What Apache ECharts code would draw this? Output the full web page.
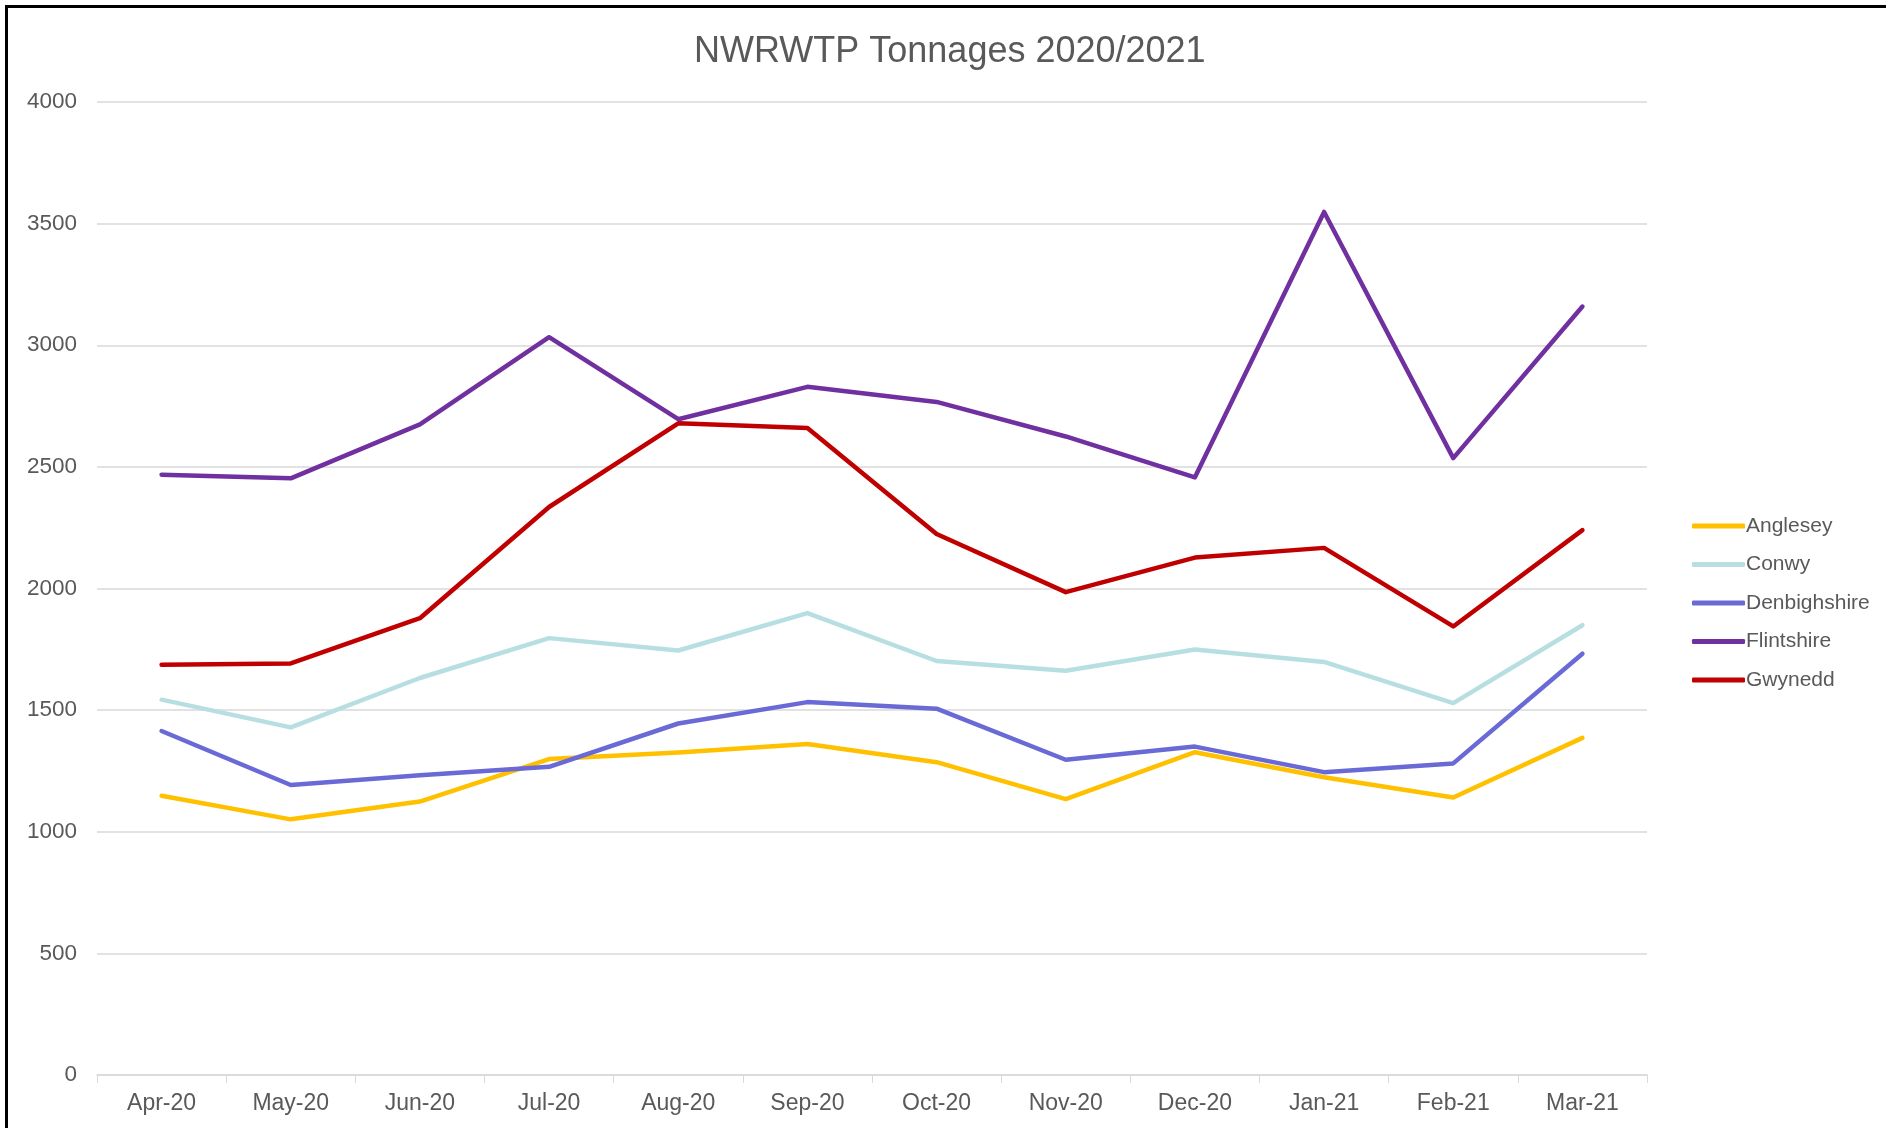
<!DOCTYPE html>
<html>
<head>
<meta charset="utf-8">
<title>NWRWTP Tonnages 2020/2021</title>
<script src="https://cdn.jsdelivr.net/npm/echarts@6/dist/echarts.min.js"></script>
<style>
  html, body { margin: 0; padding: 0; background: #fff; }
  #chart { width: 1886px; height: 1128px; }
  .frame {
    position: absolute; left: 5px; top: 5px; width: 1900px; height: 1200px;
    border-top: 3px solid #000; border-left: 3px solid #000;
    pointer-events: none;
  }
</style>
</head>
<body>
<div id="chart"></div>
<div class="frame"></div>
<script>
// 月份
const months = ['Apr-20', 'May-20', 'Jun-20', 'Jul-20', 'Aug-20', 'Sep-20',
  'Oct-20', 'Nov-20', 'Dec-20', 'Jan-21', 'Feb-21', 'Mar-21']

// 各地区吨数
const anglesey = [1148, 1051, 1124, 1299, 1326, 1361, 1286, 1134, 1327, 1224, 1141, 1386]
const conwy = [1543, 1429, 1632, 1796, 1745, 1899, 1702, 1662, 1749, 1698, 1529, 1849]
const denbighshire = [1414, 1192, 1232, 1267, 1445, 1533, 1506, 1296, 1350, 1245, 1281, 1732]
const flintshire = [2468, 2453, 2675, 3033, 2696, 2829, 2767, 2625, 2457, 3548, 2536, 3159]
const gwynedd = [1687, 1692, 1878, 2335, 2679, 2660, 2224, 1985, 2127, 2167, 1844, 2240]

const yTicks = [0, 500, 1000, 1500, 2000, 2500, 3000, 3500, 4000]

const textColor = '#595959'
const gridColor = '#D9D9D9'
const font = 'Liberation Sans, Arial, sans-serif'

const makeLine = (name, data, color) => ({
  name,
  type: 'line',
  data,
  symbol: 'none',
  lineStyle: { color, width: 4.5, cap: 'round', join: 'round' },
  itemStyle: { color },
  emphasis: { disabled: true }
})

const chart = echarts.init(document.getElementById('chart'))
chart.setOption({
  backgroundColor: '#fff',
  animation: false,
  textStyle: { fontFamily: font },
  title: {
    text: 'NWRWTP Tonnages 2020/2021',
    left: 689,
    top: 29,
    textStyle: { color: textColor, fontSize: 36, fontWeight: 'normal', fontFamily: font }
  },
  legend: {
    orient: 'vertical',
    left: 1687,
    top: 510,
    icon: 'roundRect',
    itemWidth: 53,
    itemHeight: 5,
    itemGap: 16.5,
    textStyle: { color: textColor, fontSize: 21, lineHeight: 22, fontFamily: font, padding: [0, 0, 0, -4] },
    data: ['Anglesey', 'Conwy', 'Denbighshire', 'Flintshire', 'Gwynedd']
  },
  grid: { left: 97, right: 239, top: 102, bottom: 53 },
  xAxis: {
    type: 'category',
    data: months,
    boundaryGap: true,
    axisLine: { lineStyle: { color: gridColor, width: 1.5 } },
    axisTick: { show: true, length: 8, lineStyle: { color: gridColor } },
    axisLabel: { color: textColor, fontSize: 23, margin: 17, fontFamily: font }
  },
  yAxis: {
    type: 'value',
    min: yTicks[0],
    max: yTicks[yTicks.length - 1],
    interval: 500,
    axisLine: { show: false },
    axisTick: { show: false },
    axisLabel: { color: textColor, fontSize: 22.5, margin: 20, fontFamily: font, formatter: v => String(v) },
    splitLine: { lineStyle: { color: gridColor, width: 1.5 } }
  },
  series: [
    makeLine('Anglesey', anglesey, '#FFC000'),
    makeLine('Conwy', conwy, '#B7DFE2'),
    makeLine('Denbighshire', denbighshire, '#6A6AD6'),
    makeLine('Flintshire', flintshire, '#7030A0'),
    makeLine('Gwynedd', gwynedd, '#C00000')
  ]
})
</script>
</body>
</html>
